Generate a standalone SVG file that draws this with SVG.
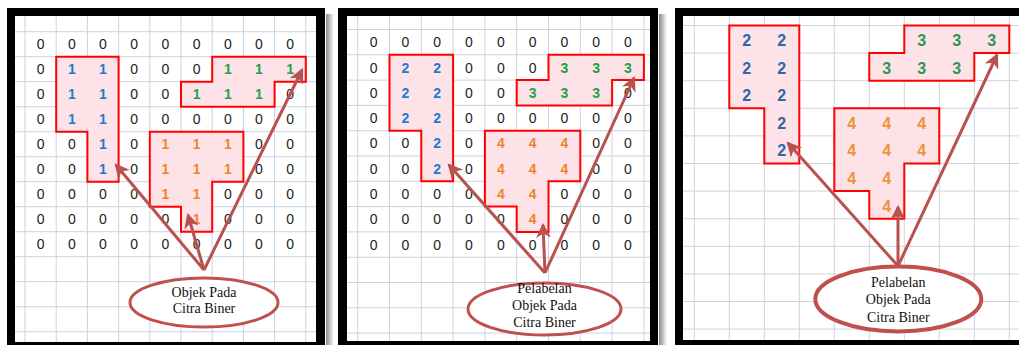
<svg xmlns="http://www.w3.org/2000/svg" width="1019" height="345" viewBox="0 0 1019 345">
<defs>
<style>
.grid{stroke:#c9d2e3;stroke-width:1;fill:none}
.grid3{stroke:#cfd3dc;stroke-width:1;fill:none}
.blob{fill:#fde3e8;stroke:#ff0000;stroke-width:2}
.d{font-family:"Liberation Sans",Arial,sans-serif;font-size:14px;text-anchor:middle}
.z{fill:#222}
.b{fill:#1d7bd1;font-weight:bold}
.g{fill:#21a04f;font-weight:bold}
.o{fill:#f0842a;font-weight:bold}
.d3{font-family:"Liberation Sans",Arial,sans-serif;font-size:16px;text-anchor:middle;font-weight:bold}
.b3{fill:#2f66a8}.g3{fill:#2e9558}.o3{fill:#e8953e}
.arr{stroke:#b9514f;stroke-width:3;fill:none;marker-end:url(#ah)}
.ell{fill:#fff;stroke:#c0504d;stroke-width:3}
.lbl{font-family:"Liberation Serif","Times New Roman",serif;font-size:14px;text-anchor:middle;fill:#111}
</style>
<marker id="ah" viewBox="0 0 14 14" refX="12" refY="7" markerWidth="15" markerHeight="15" markerUnits="userSpaceOnUse" orient="auto">
<path d="M0,0 L14,7 L0,14 L4,7 Z" fill="#b9514f"/>
</marker>
<linearGradient id="sh" x1="0" y1="0" x2="1" y2="0">
<stop offset="0" stop-color="#8a8a8a"/><stop offset="1" stop-color="#ffffff"/>
</linearGradient>
</defs>
<rect width="1019" height="345" fill="#fff"/>

<!-- Panel 1 -->
<g id="panel1">
<rect x="326" y="14" width="8" height="331" fill="url(#sh)"/>
<rect x="7" y="8" width="318" height="345" fill="#000"/>
<rect x="15" y="16" width="301" height="326" fill="#fff"/>
<path class="grid" d="M25,16V342M56.2,16V342M87.4,16V342M118.6,16V342M149.8,16V342M181,16V342M212.2,16V342M243.4,16V342M274.6,16V342M305.8,16V342M15,31.7H316M15,56.7H316M15,81.7H316M15,106.7H316M15,131.7H316M15,156.7H316M15,181.7H316M15,206.7H316M15,231.7H316M15,256.7H316M15,281.7H316M15,306.7H316M15,331.7H316"/>
<polygon class="blob" points="56.2,56.7 118.6,56.7 118.6,181.7 87.4,181.7 87.4,131.7 56.2,131.7"/>
<polygon class="blob" points="212.2,56.7 305.8,56.7 305.8,81.7 274.6,81.7 274.6,106.7 181,106.7 181,81.7 212.2,81.7"/>
<polygon class="blob" points="149.8,131.7 243.4,131.7 243.4,181.7 212.2,181.7 212.2,231.7 181,231.7 181,206.7 149.8,206.7"/>
<g class="d">
<text class="z" x="40.6" y="49.2">0</text><text class="z" x="71.8" y="49.2">0</text><text class="z" x="103" y="49.2">0</text><text class="z" x="134.2" y="49.2">0</text><text class="z" x="165.4" y="49.2">0</text><text class="z" x="196.6" y="49.2">0</text><text class="z" x="227.8" y="49.2">0</text><text class="z" x="259" y="49.2">0</text><text class="z" x="290.2" y="49.2">0</text>
<text class="z" x="40.6" y="74.2">0</text><text class="b" x="71.8" y="74.2">1</text><text class="b" x="103" y="74.2">1</text><text class="z" x="134.2" y="74.2">0</text><text class="z" x="165.4" y="74.2">0</text><text class="z" x="196.6" y="74.2">0</text><text class="g" x="227.8" y="74.2">1</text><text class="g" x="259" y="74.2">1</text><text class="g" x="290.2" y="74.2">1</text>
<text class="z" x="40.6" y="99.2">0</text><text class="b" x="71.8" y="99.2">1</text><text class="b" x="103" y="99.2">1</text><text class="z" x="134.2" y="99.2">0</text><text class="z" x="165.4" y="99.2">0</text><text class="g" x="196.6" y="99.2">1</text><text class="g" x="227.8" y="99.2">1</text><text class="g" x="259" y="99.2">1</text><text class="z" x="290.2" y="99.2">0</text>
<text class="z" x="40.6" y="124.2">0</text><text class="b" x="71.8" y="124.2">1</text><text class="b" x="103" y="124.2">1</text><text class="z" x="134.2" y="124.2">0</text><text class="z" x="165.4" y="124.2">0</text><text class="z" x="196.6" y="124.2">0</text><text class="z" x="227.8" y="124.2">0</text><text class="z" x="259" y="124.2">0</text><text class="z" x="290.2" y="124.2">0</text>
<text class="z" x="40.6" y="149.2">0</text><text class="z" x="71.8" y="149.2">0</text><text class="b" x="103" y="149.2">1</text><text class="z" x="134.2" y="149.2">0</text><text class="o" x="165.4" y="149.2">1</text><text class="o" x="196.6" y="149.2">1</text><text class="o" x="227.8" y="149.2">1</text><text class="z" x="259" y="149.2">0</text><text class="z" x="290.2" y="149.2">0</text>
<text class="z" x="40.6" y="174.2">0</text><text class="z" x="71.8" y="174.2">0</text><text class="b" x="103" y="174.2">1</text><text class="z" x="134.2" y="174.2">0</text><text class="o" x="165.4" y="174.2">1</text><text class="o" x="196.6" y="174.2">1</text><text class="o" x="227.8" y="174.2">1</text><text class="z" x="259" y="174.2">0</text><text class="z" x="290.2" y="174.2">0</text>
<text class="z" x="40.6" y="199.2">0</text><text class="z" x="71.8" y="199.2">0</text><text class="z" x="103" y="199.2">0</text><text class="z" x="134.2" y="199.2">0</text><text class="o" x="165.4" y="199.2">1</text><text class="o" x="196.6" y="199.2">1</text><text class="z" x="227.8" y="199.2">0</text><text class="z" x="259" y="199.2">0</text><text class="z" x="290.2" y="199.2">0</text>
<text class="z" x="40.6" y="224.2">0</text><text class="z" x="71.8" y="224.2">0</text><text class="z" x="103" y="224.2">0</text><text class="z" x="134.2" y="224.2">0</text><text class="z" x="165.4" y="224.2">0</text><text class="o" x="196.6" y="224.2">1</text><text class="z" x="227.8" y="224.2">0</text><text class="z" x="259" y="224.2">0</text><text class="z" x="290.2" y="224.2">0</text>
<text class="z" x="40.6" y="249.2">0</text><text class="z" x="71.8" y="249.2">0</text><text class="z" x="103" y="249.2">0</text><text class="z" x="134.2" y="249.2">0</text><text class="z" x="165.4" y="249.2">0</text><text class="z" x="196.6" y="249.2">0</text><text class="z" x="227.8" y="249.2">0</text><text class="z" x="259" y="249.2">0</text><text class="z" x="290.2" y="249.2">0</text>
</g>
</g>

<!-- Panel 2 -->
<g id="panel2">
<rect x="659" y="14" width="8" height="331" fill="url(#sh)"/>
<rect x="338" y="8" width="320" height="345" fill="#000"/>
<rect x="347" y="16" width="303" height="325" fill="#fff"/>
<path class="grid" d="M357.7,16V341M389.5,16V341M421.3,16V341M453.1,16V341M484.9,16V341M516.7,16V341M548.5,16V341M580.3,16V341M612.1,16V341M643.9,16V341M347,29.5H650M347,54.8H650M347,80.1H650M347,105.4H650M347,130.7H650M347,156H650M347,181.3H650M347,206.6H650M347,231.9H650M347,257.2H650M347,282.5H650M347,307.8H650M347,333.1H650"/>
<polygon class="blob" points="389.5,54.8 453.1,54.8 453.1,181.3 421.3,181.3 421.3,130.7 389.5,130.7"/>
<polygon class="blob" points="548.5,54.8 643.9,54.8 643.9,80.1 612.1,80.1 612.1,105.4 516.7,105.4 516.7,80.1 548.5,80.1"/>
<polygon class="blob" points="484.9,130.7 580.3,130.7 580.3,181.3 548.5,181.3 548.5,231.9 516.7,231.9 516.7,206.6 484.9,206.6"/>
<g class="d">
<text class="z" x="373.6" y="47.2">0</text><text class="z" x="405.4" y="47.2">0</text><text class="z" x="437.2" y="47.2">0</text><text class="z" x="469" y="47.2">0</text><text class="z" x="500.8" y="47.2">0</text><text class="z" x="532.6" y="47.2">0</text><text class="z" x="564.4" y="47.2">0</text><text class="z" x="596.2" y="47.2">0</text><text class="z" x="628" y="47.2">0</text>
<text class="z" x="373.6" y="72.5">0</text><text class="b" x="405.4" y="72.5">2</text><text class="b" x="437.2" y="72.5">2</text><text class="z" x="469" y="72.5">0</text><text class="z" x="500.8" y="72.5">0</text><text class="z" x="532.6" y="72.5">0</text><text class="g" x="564.4" y="72.5">3</text><text class="g" x="596.2" y="72.5">3</text><text class="g" x="628" y="72.5">3</text>
<text class="z" x="373.6" y="97.8">0</text><text class="b" x="405.4" y="97.8">2</text><text class="b" x="437.2" y="97.8">2</text><text class="z" x="469" y="97.8">0</text><text class="z" x="500.8" y="97.8">0</text><text class="g" x="532.6" y="97.8">3</text><text class="g" x="564.4" y="97.8">3</text><text class="g" x="596.2" y="97.8">3</text><text class="z" x="628" y="97.8">0</text>
<text class="z" x="373.6" y="123.1">0</text><text class="b" x="405.4" y="123.1">2</text><text class="b" x="437.2" y="123.1">2</text><text class="z" x="469" y="123.1">0</text><text class="z" x="500.8" y="123.1">0</text><text class="z" x="532.6" y="123.1">0</text><text class="z" x="564.4" y="123.1">0</text><text class="z" x="596.2" y="123.1">0</text><text class="z" x="628" y="123.1">0</text>
<text class="z" x="373.6" y="148.4">0</text><text class="z" x="405.4" y="148.4">0</text><text class="b" x="437.2" y="148.4">2</text><text class="z" x="469" y="148.4">0</text><text class="o" x="500.8" y="148.4">4</text><text class="o" x="532.6" y="148.4">4</text><text class="o" x="564.4" y="148.4">4</text><text class="z" x="596.2" y="148.4">0</text><text class="z" x="628" y="148.4">0</text>
<text class="z" x="373.6" y="173.7">0</text><text class="z" x="405.4" y="173.7">0</text><text class="b" x="437.2" y="173.7">2</text><text class="z" x="469" y="173.7">0</text><text class="o" x="500.8" y="173.7">4</text><text class="o" x="532.6" y="173.7">4</text><text class="o" x="564.4" y="173.7">4</text><text class="z" x="596.2" y="173.7">0</text><text class="z" x="628" y="173.7">0</text>
<text class="z" x="373.6" y="199">0</text><text class="z" x="405.4" y="199">0</text><text class="z" x="437.2" y="199">0</text><text class="z" x="469" y="199">0</text><text class="o" x="500.8" y="199">4</text><text class="o" x="532.6" y="199">4</text><text class="z" x="564.4" y="199">0</text><text class="z" x="596.2" y="199">0</text><text class="z" x="628" y="199">0</text>
<text class="z" x="373.6" y="224.3">0</text><text class="z" x="405.4" y="224.3">0</text><text class="z" x="437.2" y="224.3">0</text><text class="z" x="469" y="224.3">0</text><text class="z" x="500.8" y="224.3">0</text><text class="o" x="532.6" y="224.3">4</text><text class="z" x="564.4" y="224.3">0</text><text class="z" x="596.2" y="224.3">0</text><text class="z" x="628" y="224.3">0</text>
<text class="z" x="373.6" y="249.6">0</text><text class="z" x="405.4" y="249.6">0</text><text class="z" x="437.2" y="249.6">0</text><text class="z" x="469" y="249.6">0</text><text class="z" x="500.8" y="249.6">0</text><text class="z" x="532.6" y="249.6">0</text><text class="z" x="564.4" y="249.6">0</text><text class="z" x="596.2" y="249.6">0</text><text class="z" x="628" y="249.6">0</text>
</g>
</g>

<!-- Panel 3 -->
<g id="panel3">
<rect x="675" y="8" width="344" height="345" fill="#000"/>
<rect x="683" y="16" width="336" height="324" fill="#fff"/>
<path class="grid3" d="M694.3,16V340M729.3,16V340M764.3,16V340M799.3,16V340M834.3,16V340M869.3,16V340M904.3,16V340M939.3,16V340M974.3,16V340M1009.3,16V340M683,25.5H1019M683,53.1H1019M683,80.7H1019M683,108.3H1019M683,135.9H1019M683,163.5H1019M683,191.1H1019M683,218.7H1019M683,246.3H1019M683,273.9H1019M683,301.5H1019M683,329.1H1019"/>
<polygon class="blob" points="729.3,25.5 799.3,25.5 799.3,163.5 764.3,163.5 764.3,108.3 729.3,108.3"/>
<polygon class="blob" points="904.3,25.5 1009.3,25.5 1009.3,53.1 974.3,53.1 974.3,80.7 869.3,80.7 869.3,53.1 904.3,53.1"/>
<polygon class="blob" points="834.3,108.3 939.3,108.3 939.3,163.5 904.3,163.5 904.3,218.7 869.3,218.7 869.3,191.1 834.3,191.1"/>
<g class="d3">
<text class="b3" x="746.8" y="46">2</text><text class="b3" x="781.8" y="46">2</text>
<text class="b3" x="746.8" y="73.6">2</text><text class="b3" x="781.8" y="73.6">2</text>
<text class="b3" x="746.8" y="101.2">2</text><text class="b3" x="781.8" y="101.2">2</text>
<text class="b3" x="781.8" y="128.8">2</text>
<text class="b3" x="781.8" y="156.4">2</text>
<text class="g3" x="921.8" y="46">3</text><text class="g3" x="956.8" y="46">3</text><text class="g3" x="991.8" y="46">3</text>
<text class="g3" x="886.8" y="73.6">3</text><text class="g3" x="921.8" y="73.6">3</text><text class="g3" x="956.8" y="73.6">3</text>
<text class="o3" x="851.8" y="128.8">4</text><text class="o3" x="886.8" y="128.8">4</text><text class="o3" x="921.8" y="128.8">4</text>
<text class="o3" x="851.8" y="156.4">4</text><text class="o3" x="886.8" y="156.4">4</text><text class="o3" x="921.8" y="156.4">4</text>
<text class="o3" x="851.8" y="184">4</text><text class="o3" x="886.8" y="184">4</text>
<text class="o3" x="886.8" y="211.6">4</text>
</g>
</g>

<!-- Connectors -->
<g id="connectors">
<line class="arr" x1="204" y1="270" x2="116" y2="165"/>
<line class="arr" x1="204" y1="270" x2="302" y2="70"/>
<line class="arr" x1="204" y1="270" x2="188" y2="215"/>
<line class="arr" x1="545" y1="273" x2="449" y2="165"/>
<line class="arr" x1="545" y1="273" x2="634" y2="78"/>
<line class="arr" x1="545" y1="273" x2="543" y2="225"/>
<line class="arr" x1="898" y1="266" x2="788" y2="143"/>
<line class="arr" x1="898" y1="266" x2="997" y2="55"/>
<line class="arr" x1="898" y1="266" x2="898" y2="207"/>
</g>

<g id="label1">
<ellipse class="ell" cx="204" cy="302.5" rx="74" ry="24.5"/>
<text class="lbl" x="204" y="297">Objek Pada</text>
<text class="lbl" x="204" y="313">Citra Biner</text>
</g>
<g id="label2">
<ellipse class="ell" cx="544.5" cy="309" rx="76.5" ry="26"/>
<text class="lbl" x="544.5" y="293">Pelabelan</text>
<text class="lbl" x="544.5" y="310">Objek Pada</text>
<text class="lbl" x="544.5" y="327">Citra Biner</text>
</g>
<g id="label3">
<ellipse class="ell" cx="898.3" cy="299" rx="83" ry="32.5" style="stroke-width:4"/>
<text class="lbl" x="898.3" y="287">Pelabelan</text>
<text class="lbl" x="898.3" y="304">Objek Pada</text>
<text class="lbl" x="898.3" y="322">Citra Biner</text>
</g>
</svg>
